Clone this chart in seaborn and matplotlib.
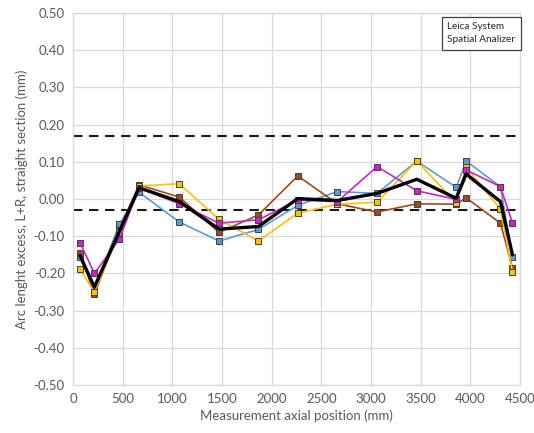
import matplotlib
matplotlib.use("Agg")
import matplotlib.pyplot as plt
from matplotlib.ticker import FormatStrFormatter, MultipleLocator
import numpy as np
import pandas as pd
import seaborn as sns

# Axial measurement positions (mm)
positions = [70, 215, 467, 665, 1071, 1470, 1866, 2263, 2662, 3061, 3461, 3857, 3958, 4303, 4424]

# Arc length excess for the individual measurement runs (mm)
run_blue = [-0.157, -0.242, -0.068, 0.018, -0.062, -0.113, -0.082, -0.017, 0.020, 0.015, 0.102, 0.031, 0.102, 0.033, -0.156]
run_brown = [-0.144, -0.256, -0.083, 0.038, 0.005, -0.090, -0.043, 0.062, -0.013, -0.035, -0.013, -0.014, 0.003, -0.065, -0.185]
run_yellow = [-0.188, -0.250, -0.090, 0.035, 0.041, -0.055, -0.113, -0.038, -0.014, -0.009, 0.102, -0.010, 0.085, -0.027, -0.195]
run_magenta = [-0.117, -0.200, -0.108, 0.030, -0.013, -0.065, -0.056, -0.003, -0.007, 0.087, 0.022, -0.001, 0.078, 0.033, -0.064]

# Average of the runs
run_mean = [-0.152, -0.237, -0.087, 0.030, -0.007, -0.081, -0.074, 0.001, -0.004, 0.015, 0.053, 0.002, 0.067, -0.007, -0.150]

# Tolerance band limits (mm)
band_limits = [0.17, -0.03]

sns.set_theme(style="white")
plt.rcParams["font.family"] = ["Lato", "DejaVu Sans"]

text_grey = "#595959"
grid_grey = "#D9D9D9"

fig = plt.figure(figsize=(5.34, 4.33), dpi=100)
ax = fig.add_axes([0.1367, 0.1109, 0.8371, 0.8591])

series = [
    (run_blue, "#5B9BD5"),
    (run_brown, "#9E4A1C"),
    (run_yellow, "#FFC000"),
    (run_magenta, "#CC22CC"),
]
for values, color in series:
    df = pd.DataFrame({"x": positions, "y": values})
    sns.lineplot(data=df, x="x", y="y", ax=ax, color=color, linewidth=1.2,
                 marker="s", markersize=5, markerfacecolor=color,
                 markeredgecolor="#404040", markeredgewidth=0.7, zorder=3)

df_mean = pd.DataFrame({"x": positions, "y": run_mean})
sns.lineplot(data=df_mean, x="x", y="y", ax=ax, color="black", linewidth=2.4, zorder=4)

for lim in band_limits:
    ax.axhline(lim, color="#1a1a1a", linewidth=1.5, linestyle=(0, (4.5, 3.2)), zorder=2)

ax.set_xlim(0, 4500)
ax.set_ylim(-0.5, 0.5)
ax.xaxis.set_major_locator(MultipleLocator(500))
ax.yaxis.set_major_locator(MultipleLocator(0.1))
ax.yaxis.set_major_formatter(FormatStrFormatter("%.2f"))
ax.grid(True, color=grid_grey, linewidth=0.9)
ax.set_axisbelow(True)
for s in ax.spines.values():
    s.set_color(grid_grey)
    s.set_linewidth(0.9)

ax.tick_params(axis="both", length=0, labelsize=9.5, colors=text_grey, pad=6)
ax.set_xlabel("Measurement axial position (mm)", fontsize=9.5, color=text_grey, labelpad=3)
ax.set_ylabel("Arc lenght excess, L+R, straight section (mm)", fontsize=9.5, color=text_grey, labelpad=4)

ax.text(0.837, 0.975, "Leica System\nSpatial Analizer", transform=ax.transAxes,
        ha="left", va="top", fontsize=7.2, color="#262626", linespacing=1.6,
        bbox=dict(boxstyle="square,pad=0.55", facecolor="white", edgecolor="#404040", linewidth=0.9),
        zorder=6)

fig.savefig("out.png", dpi=100)
